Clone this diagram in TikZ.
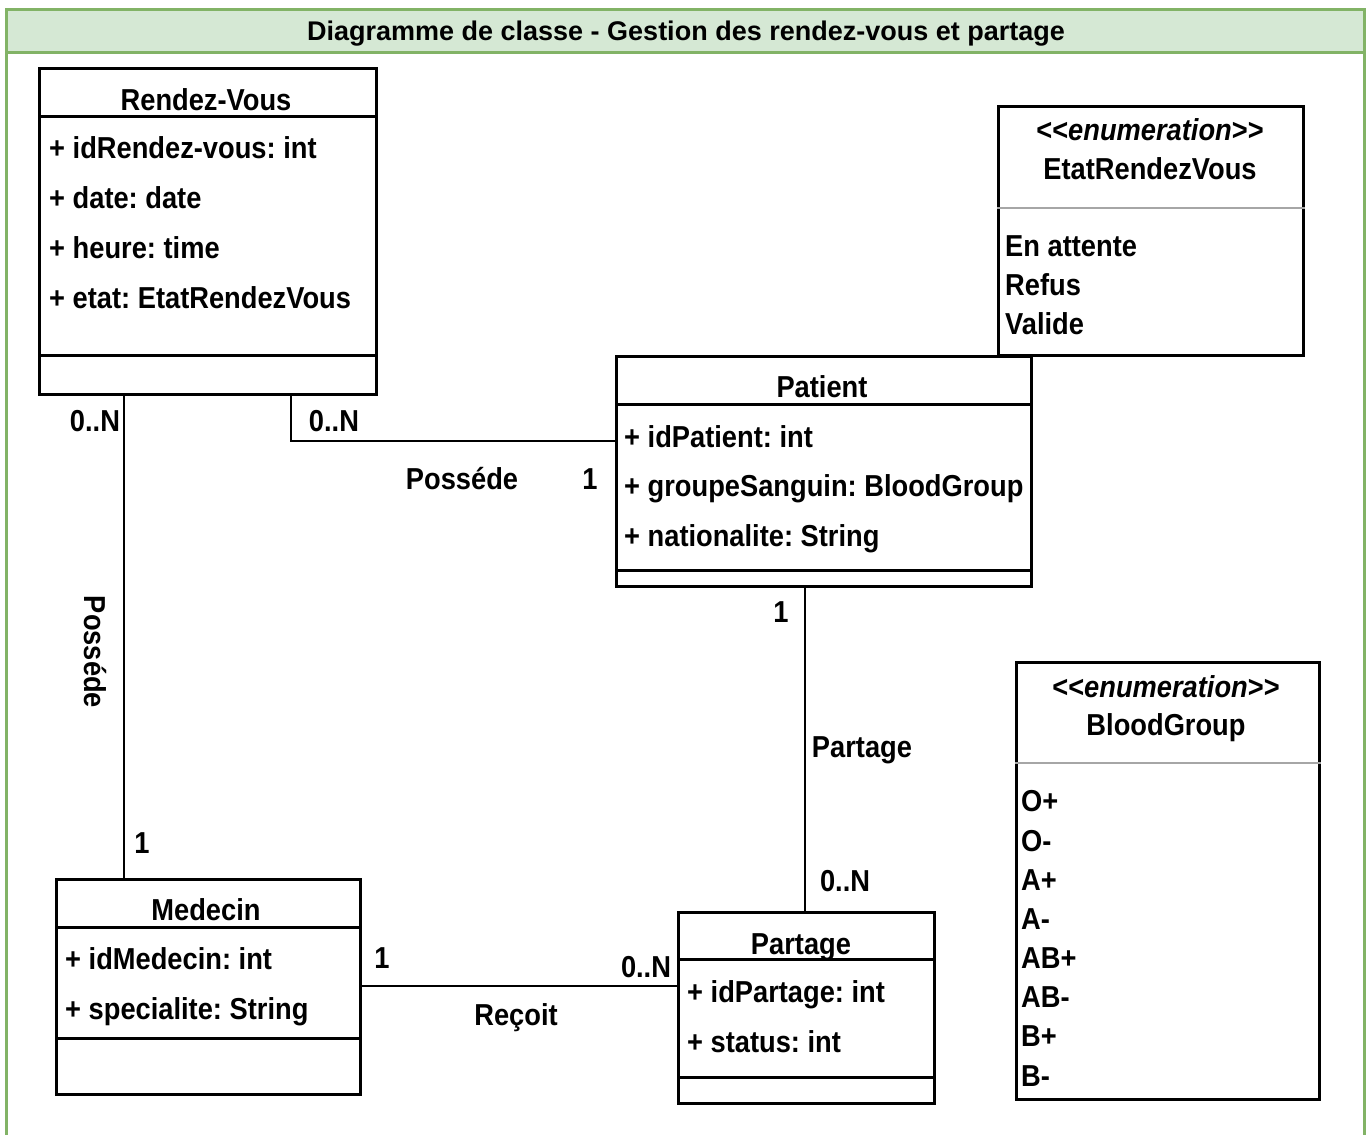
\documentclass[tikz,border=0pt]{standalone}
\usepackage{fontspec}
\setmainfont{Liberation Sans}[FakeStretch=0.9, Ligatures=TeXOff]
\newfontfamily\headfont{Liberation Sans}
\usetikzlibrary{calc}
\frenchspacing

\definecolor{frameline}{HTML}{82B366}
\definecolor{framefill}{HTML}{D5E8D4}
\definecolor{enumsep}{HTML}{A6A6A6}

\newcommand\cfont{\fontsize{30.3}{36}\selectfont\bfseries}

\tikzset{
  umlbox/.style={draw=black, line width=3pt, inner sep=0pt, anchor=north west, fill=white},
  sepline/.style={draw=black, line width=3pt},
  enumline/.style={draw=enumsep, line width=2pt},
  link/.style={draw=black, line width=2.5pt},
  txt/.style={inner sep=0pt, text height=22pt, text depth=0pt, font=\cfont},
  attr/.style={txt, anchor=west},
  lbl/.style={txt, anchor=center},
}

\begin{document}
\begin{tikzpicture}[x=1pt,y=-1pt]
\useasboundingbox (0,0) rectangle (1372,1134);

% frame with title bar
\fill[white] (0,0) rectangle (1372,1134);
\draw[frameline, line width=3pt] (6.5,1140) -- (6.5,9.5) -- (1364,9.5) -- (1364,1140);
\draw[frameline, fill=framefill, line width=3pt] (6.5,9.5) rectangle (1364,53);
\node[inner sep=0pt, font=\headfont\fontsize{27}{32}\selectfont\bfseries, text height=19pt, text depth=0pt] (title) at (686,31)
  {Diagramme de classe - Gestion des rendez-vous et partage};

% ---- classes ----
\node[umlbox, minimum width=337pt, minimum height=326pt] (rv) at (38,67) {};
\draw[sepline] ([yshift=-50pt]rv.north west) -- ([yshift=-50pt]rv.north east);
\draw[sepline] ([yshift=-288pt]rv.north west) -- ([yshift=-288pt]rv.north east);
\node[lbl] (rvname) at (206,100) {Rendez-Vous};
\node[attr] (rva1) at (49,148) {+ idRendez-vous: int};
\node[attr] (rva2) at (49,197) {+ date: date};
\node[attr] (rva3) at (49,247) {+ heure: time};
\node[attr] (rva4) at (49,297) {+ etat: EtatRendezVous};

\node[umlbox, minimum width=305pt, minimum height=249pt] (etat) at (997,105) {};
\draw[enumline] ([yshift=-103pt]etat.north west) -- ([yshift=-103pt]etat.north east);
\node[lbl] (etatst) at (1150,130) {<<\textit{enumeration}>>};
\node[lbl] (etatname) at (1150,168) {EtatRendezVous};
\node[attr] (etat1) at (1005,245) {En attente};
\node[attr] (etat2) at (1005,284) {Refus};
\node[attr] (etat3) at (1005,323) {Valide};

\node[umlbox, minimum width=415pt, minimum height=230pt] (pat) at (615,355) {};
\draw[sepline] ([yshift=-49pt]pat.north west) -- ([yshift=-49pt]pat.north east);
\draw[sepline] ([yshift=-215pt]pat.north west) -- ([yshift=-215pt]pat.north east);
\node[lbl] (patname) at (822,386) {Patient};
\node[attr] (pata1) at (624,436) {+ idPatient: int};
\node[attr] (pata2) at (624,485) {+ groupeSanguin: BloodGroup};
\node[attr] (pata3) at (624,535) {+ nationalite: String};

\node[umlbox, minimum width=304pt, minimum height=215pt] (med) at (55,878) {};
\draw[sepline] ([yshift=-49pt]med.north west) -- ([yshift=-49pt]med.north east);
\draw[sepline] ([yshift=-160pt]med.north west) -- ([yshift=-160pt]med.north east);
\node[lbl] (medname) at (206,909) {Medecin};
\node[attr] (meda1) at (65,958) {+ idMedecin: int};
\node[attr] (meda2) at (65,1008) {+ specialite: String};

\node[umlbox, minimum width=256pt, minimum height=191pt] (par) at (677,911) {};
\draw[sepline] ([yshift=-48pt]par.north west) -- ([yshift=-48pt]par.north east);
\draw[sepline] ([yshift=-166pt]par.north west) -- ([yshift=-166pt]par.north east);
\node[lbl] (parname) at (801,943) {Partage};
\node[attr] (para1) at (687,991) {+ idPartage: int};
\node[attr] (para2) at (687,1041) {+ status: int};

\node[umlbox, minimum width=303pt, minimum height=437pt] (blood) at (1015,661) {};
\draw[enumline] ([yshift=-102pt]blood.north west) -- ([yshift=-102pt]blood.north east);
\node[lbl] (bloodst) at (1166,686) {<<\textit{enumeration}>>};
\node[lbl] (bloodname) at (1166,724) {BloodGroup};
\foreach \v/\y [count=\i] in {O+/800, O-/840, A+/879, A-/918, AB+/957, AB-/996, B+/1035, B-/1075}
  \node[attr] (blood\i) at (1021,\y) {\v};

% ---- associations ----
\coordinate (k1) at (124,0);
\draw[link] (rv.south -| k1) -- (med.north -| k1);
\node[lbl] (m1a) at (95,420) {0..N};
\node[lbl] (m1b) at (142,842) {1};
\node[lbl, rotate=-90] (r1) at (95,652) {Posséde};

\coordinate (k2) at (291,441);
\draw[link] (rv.south -| k2) -- (k2) -- (pat.west |- k2);
\node[lbl] (m2a) at (334,420) {0..N};
\node[lbl] (r2) at (462,478) {Posséde};
\node[lbl] (m2b) at (590,478) {1};

\coordinate (k3) at (805,0);
\draw[link] (pat.south -| k3) -- (par.north -| k3);
\node[lbl] (m3a) at (781,611) {1};
\node[lbl] (r3) at (862,746) {Partage};
\node[lbl] (m3b) at (845,880) {0..N};

\coordinate (k4) at (0,986);
\draw[link] (med.east |- k4) -- (par.west |- k4);
\node[lbl] (m4a) at (382,957) {1};
\node[lbl] (m4b) at (646,966) {0..N};
\node[lbl] (r4) at (516,1014) {Reçoit};
\end{tikzpicture}
\end{document}
